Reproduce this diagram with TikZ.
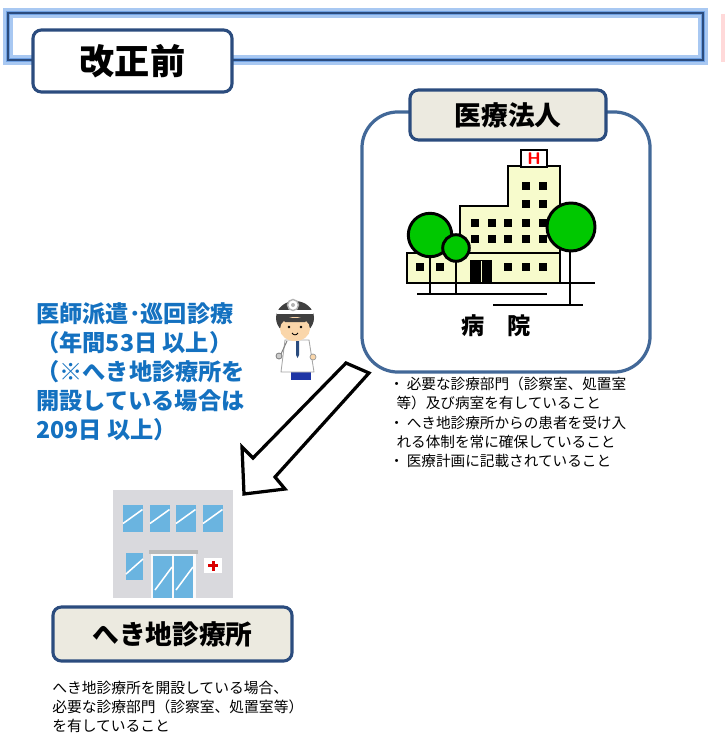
\documentclass[tikz,border=0pt]{standalone}
\usepackage{fontspec}
\setmainfont{Noto Sans CJK JP}
\usetikzlibrary{positioning}
\definecolor{navy}{RGB}{43,76,126}
\definecolor{frameblue}{RGB}{66,104,152}
\definecolor{labelbg}{RGB}{236,234,224}
\definecolor{textblue}{RGB}{20,113,192}
\definecolor{bldyellow}{RGB}{247,251,204}
\definecolor{treegreen}{RGB}{0,200,0}
\definecolor{glassblue}{RGB}{106,180,224}
\definecolor{wallgrey}{RGB}{217,217,221}
\definecolor{skin}{RGB}{250,214,170}
\definecolor{glowout}{RGB}{168,200,242}
\definecolor{glowin}{RGB}{112,162,228}
\tikzset{
 labelbox/.style={draw=navy, line width=2.2pt, fill=labelbg, rounded corners=6pt,
   font=\bfseries\fontsize{19}{22}\selectfont, inner sep=0pt},
 outline/.style={draw=black, line width=2.1pt},
 win/.style={fill=black},
 glass/.style={fill=glassblue},
 shine/.style={draw=white, line width=1.1pt},
 note/.style={font=\fontsize{10.4}{13.6}\selectfont, align=left, inner sep=0pt},
}

\begin{document}
\begin{tikzpicture}[x=0.025cm, y=-0.025cm]
    \useasboundingbox (0,0) rectangle (724,735);

    % header strip
    \draw[line width=6.5pt, glowout] (8,13) rectangle (703,60);
    \draw[line width=3.5pt, glowin] (8,13) rectangle (703,60);
    \draw[line width=1pt, navy] (8,13) rectangle (703,60);
    \draw[line width=3pt, red!15] (723,14) -- (723,62);

    \node (before) [labelbox, fill=white, minimum width=4.975cm, minimum height=1.55cm,
        font=\bfseries\fontsize{25}{28}\selectfont] at (132.5,61) {改正前};

    % hospital side
    \node (hosp) [draw=frameblue, line width=2.3pt, rounded corners=0.9cm,
        minimum width=7.2cm, minimum height=6.5cm] at (506,242) {};
    \node (corp) [labelbox, minimum width=4.9cm, minimum height=1.25cm] at (508,115) {医療法人};

    \draw[outline, fill=bldyellow] (407,283) -- (407,253) -- (460,253) -- (460,206) -- (508,206)
        -- (508,166) -- (560,166) -- (560,283) -- cycle;
    \draw[outline] (460,253) -- (560,253);
    \draw[outline, fill=white] (521,150) rectangle (547,167);
    \node (mark) [text=red, font=\bfseries\sffamily\fontsize{12}{12}\selectfont, inner sep=0pt] at (534,159) {H};
    \foreach \x in {525.7, 542.7} {
        \foreach \y in {186, 204} {
            \fill[win] (\x-4,\y-4) rectangle (\x+4,\y+4);
        }
    }
    \foreach \x in {475, 491.7, 508.3, 525.7, 542.7} {
        \foreach \y in {222.7, 239.3} {
            \fill[win] (\x-4,\y-4) rectangle (\x+4,\y+4);
        }
    }
    \foreach \x in {420, 440, 508.3, 525.7, 542.7} {
        \fill[win] (\x-4,263.3) rectangle (\x+4,271.3);
    }
    \fill (470,260) rectangle (492,282);
    \draw[bldyellow, line width=0.6pt] (481,261) -- (481,282);

    \draw[outline] (407,283) -- (595,283);
    \draw[outline] (417,294) -- (547,294);
    \draw[outline] (493,305) -- (583,305);
    \draw[outline] (430,250) -- (430,294);
    \draw[outline] (456,255) -- (456,294);
    \draw[outline] (570,245) -- (570,305);
    \draw[outline, fill=treegreen] (430,235) circle (21.7);
    \draw[outline, fill=treegreen] (456,248) circle (13.3);
    \draw[outline, fill=treegreen] (571,227) circle (24);

    \node (hname) [font=\bfseries\fontsize{16.5}{18}\selectfont] at (496,326) {病　院};

    \node (reqs) [note, anchor=north west] at (389,377)
        {・\hspace{0.2em}必要な診療部門（診察室、処置室\\
         \hspace*{0.5em}等）及び病室を有していること\\
         ・\hspace{0.2em}へき地診療所からの患者を受け入\\
         \hspace*{0.5em}れる体制を常に確保していること\\
         ・\hspace{0.2em}医療計画に記載されていること};

    % dispatch arrow
    \draw[outline, fill=white, line width=2.3pt, line join=miter] (346,363) -- (253,458) -- (242,447)
        -- (244,494) -- (285,489) -- (275,477) -- (369,373) -- cycle;

    \node (visit) [anchor=north west, align=left, inner sep=0pt, text=textblue,
        font=\bfseries\fontsize{16.5}{20.6}\selectfont] at (36,302.5)
        {医師派遣･巡回診療\\（年間53日 以上）\\（※へき地診療所を\\開設している場合は\\209日 以上）};

    % doctor
    \fill[navy!70!blue] (291,369) rectangle (311,380);
    \filldraw[fill=white, draw=gray!70, line width=0.6pt] (285,340) -- (309,340) -- (314,372) -- (281,372) -- cycle;
    \fill[navy] (296,341) -- (299,341) -- (299,355) -- (297.5,358) -- (296,355) -- cycle;
    \draw[gray, line width=0.7pt] (287,341) -- (281,354);
    \filldraw[fill=gray!40, draw=gray, line width=0.6pt] (279,356) circle (3);
    \filldraw[fill=skin, draw=gray!80, line width=0.5pt] (313,357) circle (3);
    \fill[black!75] (295,318) ellipse (19 and 17);
    \fill[skin] (295,329) ellipse (15 and 12);
    \fill[black!75] (281,318) -- (309,318) -- (305,322) -- (285,322) -- cycle;
    \draw[white, line width=2.5pt] (277,312) -- (313,312);
    \filldraw[fill=white, draw=gray!60, line width=1pt] (293,305) circle (5.5);
    \fill[gray!60] (293,305) circle (2);
    \fill (289,327) circle (1.3);
    \fill (301,327) circle (1.3);
    \draw[line width=0.6pt] (292,333) .. controls (294,335.5) and (296,335.5) .. (298,333);

    % clinic building
    \fill[wallgrey] (113,490) rectangle (233,598);
    \foreach \x in {123, 150, 176, 203} {
        \fill[glass] (\x,505) rectangle (\x+19.5,532);
        \draw[shine] (\x,523.5) -- (\x+19.5,509.5);
    }
    \fill[glass] (126,553) rectangle (143,580);
    \draw[shine] (126,574) -- (143,559);
    \fill[gray!55] (149,550) rectangle (198,554);
    \fill[white!85!wallgrey] (151,554) rectangle (196,598);
    \foreach \x in {153, 174} {
        \fill[glass] (\x,556) rectangle (\x+19,598);
        \draw[shine] (\x+2,590) -- (\x+19,567);
    }
    \fill[white] (204,558) rectangle (222,573);
    \fill[red!85!black] (211.5,560.5) rectangle (214.5,570.5);
    \fill[red!85!black] (208,564) rectangle (218,567);

    \node (clinic) [labelbox, minimum width=5.975cm, minimum height=1.35cm] at (172.5,634) {へき地診療所};

    \node (cond) [note, anchor=north west, font=\fontsize{10.5}{13.6}\selectfont] at (52,681)
        {へき地診療所を開設している場合、\\必要な診療部門（診察室、処置室等）\\を有していること};
\end{tikzpicture}
\end{document}
